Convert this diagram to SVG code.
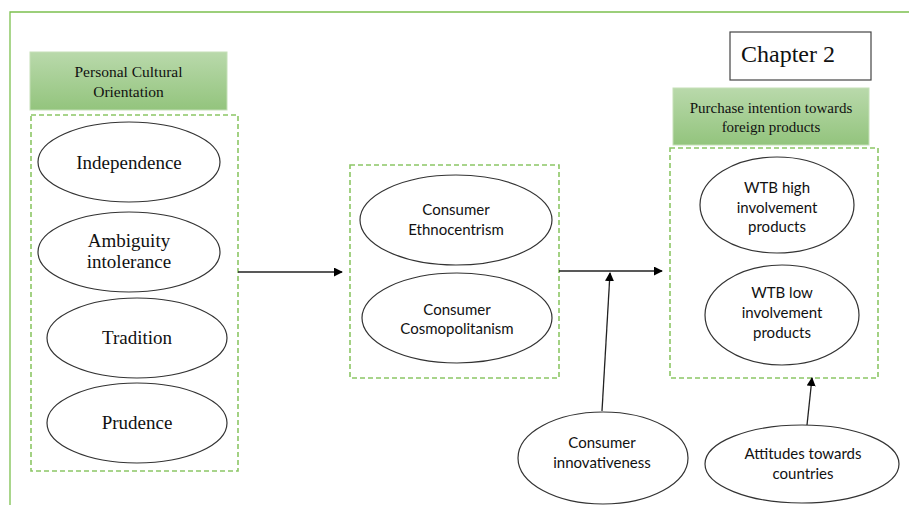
<svg xmlns="http://www.w3.org/2000/svg" width="909" height="508" viewBox="0 0 909 508">
<defs>
<linearGradient id="hdr" x1="0" y1="0" x2="0" y2="1">
<stop offset="0" stop-color="#b9d9ab"/>
<stop offset="1" stop-color="#93c47d"/>
</linearGradient>
<marker id="arr" viewBox="0 0 10 10" refX="9" refY="5" markerWidth="9" markerHeight="9" markerUnits="userSpaceOnUse" orient="auto">
<path d="M0,0 L10,5 L0,10 z" fill="#000"/>
</marker>
</defs>
<style>
.frame{fill:none;stroke:#7cc04f;stroke-width:1.3}
.dash{fill:none;stroke:#8cc665;stroke-width:1.6;stroke-dasharray:5,3}
.hdr{fill:url(#hdr);stroke:#c5e0b8;stroke-width:1}
.ell{fill:#fff;stroke:#333;stroke-width:1.2}
.serif{font-family:"Liberation Serif","Times New Roman",serif;fill:#111;text-anchor:middle}
.sans{font-family:Lato,"Liberation Sans",sans-serif;fill:#111;text-anchor:middle;font-size:15px}
.con{fill:none;stroke:#222;stroke-width:1.3}
</style>
<path class="frame" d="M10,505 V12 H909"/>

<g id="chapter">
<rect x="730" y="32" width="141" height="48" fill="#fff" stroke="#444" stroke-width="1.2"/>
<text class="serif" x="788" y="62" font-size="24">Chapter 2</text>
</g>

<g id="pco-group">
<rect class="hdr" x="30" y="52" width="197" height="58"/>
<text class="serif" x="128.5" y="77" font-size="15.5">Personal Cultural</text>
<text class="serif" x="128.5" y="97" font-size="15.5">Orientation</text>
<rect class="dash" x="31" y="115" width="207" height="356"/>
</g>
<g id="independence">
<ellipse class="ell" cx="129" cy="162" rx="91" ry="40"/>
<text class="serif" x="129" y="169" font-size="19">Independence</text>
</g>
<g id="ambiguity">
<ellipse class="ell" cx="129" cy="252" rx="91" ry="40"/>
<text class="serif" x="129" y="247" font-size="19">Ambiguity</text>
<text class="serif" x="129" y="268" font-size="19">intolerance</text>
</g>
<g id="tradition">
<ellipse class="ell" cx="137" cy="338" rx="90" ry="40"/>
<text class="serif" x="137" y="344" font-size="19">Tradition</text>
</g>
<g id="prudence">
<ellipse class="ell" cx="137" cy="423" rx="90" ry="40"/>
<text class="serif" x="137" y="429" font-size="19">Prudence</text>
</g>

<g id="mid-group">
<rect class="dash" x="350" y="165" width="209" height="213"/>
</g>
<g id="ethnocentrism">
<ellipse class="ell" cx="456" cy="220" rx="96" ry="45"/>
<text class="sans" x="456" y="215">Consumer</text>
<text class="sans" x="456" y="235">Ethnocentrism</text>
</g>
<g id="cosmopolitanism">
<ellipse class="ell" cx="457" cy="318" rx="95" ry="45"/>
<text class="sans" x="457" y="315">Consumer</text>
<text class="sans" x="457" y="334">Cosmopolitanism</text>
</g>

<g id="pi-group">
<rect class="hdr" x="673" y="88" width="196" height="57"/>
<text class="serif" x="771" y="113" font-size="15">Purchase intention towards</text>
<text class="serif" x="771" y="132" font-size="15">foreign products</text>
<rect class="dash" x="670" y="148" width="208" height="230"/>
</g>
<g id="wtb-high">
<ellipse class="ell" cx="777" cy="205" rx="77" ry="48"/>
<text class="sans" x="777" y="193">WTB high</text>
<text class="sans" x="777" y="213">involvement</text>
<text class="sans" x="777" y="232">products</text>
</g>
<g id="wtb-low">
<ellipse class="ell" cx="782" cy="315" rx="77" ry="50"/>
<text class="sans" x="782" y="298">WTB low</text>
<text class="sans" x="782" y="318">involvement</text>
<text class="sans" x="782" y="338">products</text>
</g>

<g id="innovativeness">
<ellipse class="ell" cx="603" cy="458" rx="85" ry="46"/>
<text class="sans" x="602" y="448">Consumer</text>
<text class="sans" x="602" y="468">innovativeness</text>
</g>
<g id="attitudes">
<ellipse class="ell" cx="802" cy="464" rx="97" ry="39"/>
<text class="sans" x="803" y="459">Attitudes towards</text>
<text class="sans" x="803" y="479">countries</text>
</g>

<g id="connectors">
<line class="con" x1="238" y1="272" x2="342" y2="272" marker-end="url(#arr)"/>
<line class="con" x1="559" y1="271" x2="662" y2="271" marker-end="url(#arr)"/>
<line class="con" x1="602" y1="411" x2="610" y2="273" marker-end="url(#arr)"/>
<line class="con" x1="807" y1="425" x2="812" y2="378" marker-end="url(#arr)"/>
</g>
</svg>
